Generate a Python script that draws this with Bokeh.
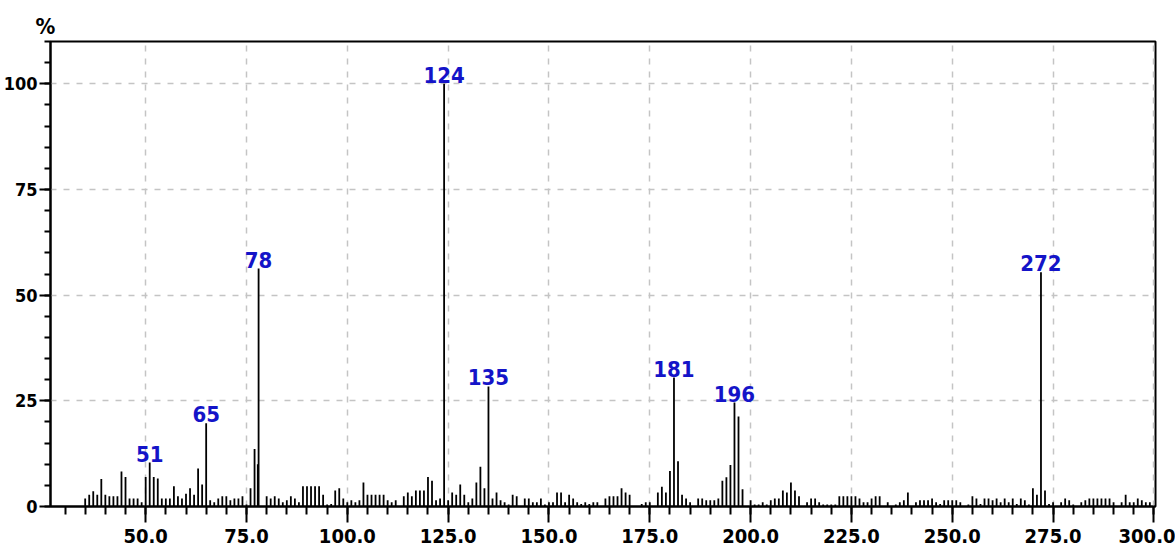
from bokeh.plotting import figure
from bokeh.models import (ColumnDataSource, FixedTicker, PrintfTickFormatter,
                          Range1d)
from bokeh.core.properties import value
from bokeh.embed import file_html
from bokeh.resources import INLINE

# Mass spectrum: m/z and relative intensity (%)
mz = [
    35, 36, 37, 38, 39, 40, 41, 42, 43, 44, 45, 46, 47, 48, 49, 50,
    51, 52, 53, 54, 55, 56, 57, 58, 59, 60, 61, 62, 63, 64, 65, 66,
    67, 68, 69, 70, 71, 72, 73, 74, 75, 76, 77, 77.8, 78, 80, 81, 82,
    83, 84, 85, 86, 87, 88, 89, 90, 91, 92, 93, 94, 95, 96, 97, 98,
    99, 100, 101, 102, 103, 104, 105, 106, 107, 108, 109, 110, 111, 112, 114, 115,
    116, 117, 118, 119, 120, 121, 122, 123, 124, 125, 126, 127, 128, 129, 130, 131,
    132, 133, 134, 135, 136, 137, 138, 139, 140, 141, 142, 144, 145, 146, 147, 148,
    149, 150, 151, 152, 153, 154, 155, 156, 157, 158, 159, 160, 161, 162, 164, 165,
    166, 167, 168, 169, 170, 173, 174, 175, 177, 178, 179, 180, 181, 182, 183, 184,
    185, 187, 188, 189, 190, 191, 192, 193, 194, 195, 196, 197, 198, 200, 201, 202,
    203, 204, 205, 206, 207, 208, 209, 210, 211, 212, 214, 215, 216, 217, 218, 219,
    220, 221, 222, 223, 224, 225, 226, 227, 228, 229, 230, 231, 232, 234, 236, 237,
    238, 239, 241, 242, 243, 244, 245, 246, 247, 248, 249, 250, 251, 252, 254, 255,
    256, 257, 258, 259, 260, 261, 262, 263, 264, 265, 266, 267, 268, 269, 270, 271,
    272, 273, 274, 275, 277, 278, 279, 280, 282, 283, 284, 285, 286, 287, 288, 289,
    290, 292, 293, 294, 295, 296, 297, 298, 299,
]
intensity = [
    1.9, 2.8, 3.6, 2.8, 6.5, 2.8, 2.4, 2.4, 2.4, 8.3, 7.0, 1.9, 1.9, 1.9, 1.0, 7.0,
    10.4, 7.0, 6.6, 1.9, 1.9, 1.9, 4.8, 2.4, 1.9, 3.0, 4.3, 2.8, 9.0, 5.2, 19.7, 1.5,
    1.0, 1.9, 2.4, 2.4, 1.5, 1.9, 1.9, 2.4, 0.5, 4.3, 13.6, 10.0, 56.3, 2.4, 1.9, 2.4,
    1.9, 1.0, 1.5, 2.4, 1.9, 1.0, 4.8, 4.8, 4.8, 4.8, 4.8, 2.8, 0.5, 0.6, 3.8, 4.3,
    1.9, 1.0, 1.5, 1.0, 1.5, 5.7, 2.8, 2.8, 2.8, 2.8, 2.8, 1.5, 1.0, 1.5, 2.4, 3.3,
    2.4, 3.8, 3.8, 3.8, 7.0, 6.1, 1.5, 1.9, 100.0, 1.5, 3.3, 2.8, 5.2, 2.8, 1.0, 1.9,
    5.7, 9.4, 4.3, 28.4, 1.9, 3.3, 1.5, 1.0, 0.5, 2.8, 2.4, 1.9, 1.9, 1.0, 1.0, 1.9,
    0.5, 1.0, 1.0, 3.3, 3.3, 1.0, 2.8, 1.9, 1.0, 0.6, 1.0, 0.6, 1.0, 1.0, 1.9, 2.4,
    2.4, 2.4, 4.3, 3.3, 2.8, 0.6, 1.0, 1.0, 3.3, 4.7, 3.3, 8.4, 30.5, 10.7, 2.8, 1.9,
    1.0, 1.9, 1.9, 1.5, 1.5, 1.5, 1.9, 6.1, 6.9, 9.8, 24.6, 21.3, 4.1, 1.5, 0.5, 0.5,
    1.0, 0.5, 1.5, 1.9, 1.9, 3.8, 3.3, 5.7, 3.8, 2.4, 1.0, 1.9, 1.9, 1.0, 0.5, 0.5,
    0.5, 0.5, 2.4, 2.4, 2.4, 2.4, 2.4, 1.9, 1.0, 1.0, 1.9, 2.4, 2.4, 1.0, 0.5, 1.0,
    1.5, 3.3, 1.0, 1.5, 1.5, 1.5, 1.9, 1.0, 0.6, 1.5, 1.5, 1.5, 1.5, 1.0, 0.5, 2.4,
    1.9, 0.6, 1.9, 1.9, 1.5, 1.9, 1.0, 1.9, 1.0, 1.9, 0.6, 1.9, 1.5, 0.5, 4.3, 2.8,
    55.4, 3.8, 0.6, 1.0, 1.0, 1.9, 1.5, 0.5, 1.0, 1.5, 1.9, 1.9, 1.9, 1.9, 1.9, 1.9,
    1.0, 1.0, 2.8, 1.0, 1.0, 1.9, 1.5, 1.0, 1.0,
]

# Peaks annotated with their nominal mass
labelled_mz = [51, 65, 78, 124, 135, 181, 196, 272]

x_ticks = [50, 75, 100, 125, 150, 175, 200, 225, 250, 275, 300]
y_ticks = [0, 25, 50, 75, 100]

FONT = "DejaVu Sans Condensed"

spec = ColumnDataSource(dict(mz=mz, zero=[0] * len(mz), inten=intensity))
peak_h = [intensity[mz.index(m)] for m in labelled_mz]
peaks = ColumnDataSource(dict(mz=labelled_mz, inten=peak_h,
                              txt=[str(m) for m in labelled_mz]))

p = figure(width=1175, height=555, output_backend="svg", toolbar_location=None,
           x_range=Range1d(26.4, 300.4), y_range=Range1d(0, 110))
p.min_border_left = 50
p.min_border_right = 20
p.min_border_top = 41
p.min_border_bottom = 49
p.background_fill_color = "white"
p.border_fill_color = "white"
p.outline_line_color = "black"
p.outline_line_width = 2

# unit marker above the intensity axis
p.title.text = "%"
p.title.align = "left"
p.title.offset = -15
p.title.standoff = 6
p.title.text_font = FONT
p.title.text_font_style = "bold"
p.title.text_font_size = "22px"
p.title.text_color = "black"

# grid
for g in (p.xgrid, p.ygrid):
    g.grid_line_color = "#c4c4c4"
    g.grid_line_dash = "6 7"
    g.grid_line_width = 1.5

# axes
p.xaxis.ticker = FixedTicker(ticks=x_ticks, minor_ticks=list(range(30, 301, 5)))
p.xaxis.formatter = PrintfTickFormatter(format="%.1f")
p.yaxis.ticker = FixedTicker(ticks=y_ticks, minor_ticks=list(range(0, 111, 5)))
for ax in (p.xaxis, p.yaxis):
    ax.axis_line_color = "black"
    ax.axis_line_width = 2
    ax.major_tick_line_color = "black"
    ax.major_tick_line_width = 2
    ax.minor_tick_line_color = "black"
    ax.minor_tick_line_width = 2
    ax.major_tick_in = 0
    ax.minor_tick_in = 0
    ax.major_label_text_font = FONT
    ax.major_label_text_font_style = "bold"
    ax.major_label_text_color = "black"
p.xaxis.major_label_text_font_size = "20px"
p.yaxis.major_label_text_font_size = "18px"
p.xaxis.major_tick_out = 16
p.xaxis.minor_tick_out = 8
p.xaxis.major_label_standoff = 6
p.yaxis.major_tick_out = 11
p.yaxis.minor_tick_out = 6
p.yaxis.major_label_standoff = 2

# spectrum sticks
p.segment(x0="mz", y0="zero", x1="mz", y1="inten", source=spec,
          line_color="black", line_width=1.8)

# peak annotations
p.text(x="mz", y="inten", text="txt", source=peaks,
       text_font=value(FONT), text_font_style="bold", text_font_size="22px",
       text_color="#1414c8", text_align="center", text_baseline="bottom",
       y_offset=-1)

open("out.html", "w").write(file_html(p, INLINE))
